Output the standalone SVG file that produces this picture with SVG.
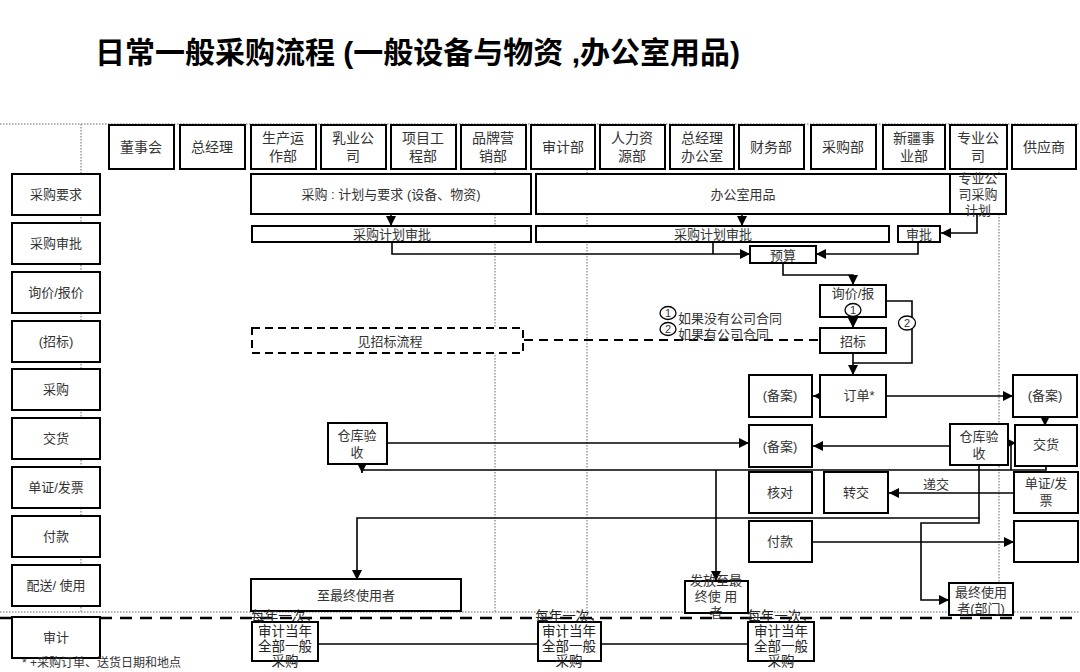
<svg xmlns="http://www.w3.org/2000/svg" width="1080" height="672" viewBox="0 0 1080 672">
<style>
.b{fill:#fff;stroke:#000;stroke-width:2}
.db{fill:#fff;stroke:#000;stroke-width:2;stroke-dasharray:8 5}
.t{font-family:"Liberation Sans","Noto Sans CJK SC",sans-serif;font-size:13px;fill:#333;text-anchor:middle}
.h{font-size:14px}
.k{fill:#222;font-size:13.5px}
.dot{stroke:#666;stroke-width:1;stroke-dasharray:1.5 1.5;fill:none}
.ln{stroke:#000;stroke-width:1.6;fill:none}
.a{marker-end:url(#ar)}
.dash{stroke:#000;stroke-width:2.5;stroke-dasharray:12 8;fill:none}
.ttl{font-family:"Liberation Sans","Noto Sans CJK SC",sans-serif;font-size:30px;font-weight:bold;fill:#000}
</style>
<defs>
<marker id="ar" markerUnits="userSpaceOnUse" markerWidth="10" markerHeight="10" refX="10" refY="5" orient="auto"><path d="M0,0 L10,5 L0,10 z" fill="#000"/></marker>
</defs>
<rect width="1080" height="672" fill="#fff"/>
<text class="ttl" x="95" y="63">日常一般采购流程 (一般设备与物资 ,办公室用品)</text>

<g id="gridlines">
<line class="dot" x1="0" y1="124" x2="1080" y2="124"/>
<line class="dot" x1="0" y1="612" x2="1080" y2="612"/>
<line class="dot" x1="81" y1="124" x2="81" y2="612"/>
<line class="dot" x1="495" y1="124" x2="495" y2="612"/>
<line class="dot" x1="587" y1="124" x2="587" y2="612"/>
<line class="dot" x1="999" y1="124" x2="999" y2="612"/>
<line class="dash" x1="0" y1="618" x2="1080" y2="618"/>
</g>

<g id="header">
<g id="h1"><rect class="b" x="109" y="125" width="65" height="44"/><text class="t h" x="141" y="152">董事会</text></g>
<g id="h2"><rect class="b" x="180" y="125" width="65" height="44"/><text class="t h" x="212" y="152">总经理</text></g>
<g id="h3"><rect class="b" x="251" y="125" width="65" height="44"/><text class="t h" x="283" y="143">生产运</text><text class="t h" x="283" y="161">作部</text></g>
<g id="h4"><rect class="b" x="321" y="125" width="65" height="44"/><text class="t h" x="353" y="143">乳业公</text><text class="t h" x="353" y="161">司</text></g>
<g id="h5"><rect class="b" x="391" y="125" width="65" height="44"/><text class="t h" x="423" y="143">项目工</text><text class="t h" x="423" y="161">程部</text></g>
<g id="h6"><rect class="b" x="461" y="125" width="65" height="44"/><text class="t h" x="493" y="143">品牌营</text><text class="t h" x="493" y="161">销部</text></g>
<g id="h7"><rect class="b" x="531" y="125" width="64" height="44"/><text class="t h" x="563" y="152">审计部</text></g>
<g id="h8"><rect class="b" x="600" y="125" width="65" height="44"/><text class="t h" x="632" y="143">人力资</text><text class="t h" x="632" y="161">源部</text></g>
<g id="h9"><rect class="b" x="670" y="125" width="64" height="44"/><text class="t h" x="702" y="143">总经理</text><text class="t h" x="702" y="161">办公室</text></g>
<g id="h10"><rect class="b" x="739" y="125" width="65" height="44"/><text class="t h" x="771" y="152">财务部</text></g>
<g id="h11"><rect class="b" x="811" y="125" width="65" height="44"/><text class="t h" x="843" y="152">采购部</text></g>
<g id="h12"><rect class="b" x="883" y="125" width="62" height="44"/><text class="t h" x="914" y="143">新疆事</text><text class="t h" x="914" y="161">业部</text></g>
<g id="h13"><rect class="b" x="950" y="125" width="57" height="44"/><text class="t h" x="978" y="143">专业公</text><text class="t h" x="978" y="161">司</text></g>
<g id="h14"><rect class="b" x="1012" y="125" width="64" height="44"/><text class="t h" x="1044" y="152">供应商</text></g>
</g>

<g id="lanes">
<g id="l1"><rect class="b" x="12" y="174" width="88" height="41"/><text class="t" x="56" y="199">采购要求</text></g>
<g id="l2"><rect class="b" x="12" y="223" width="88" height="41"/><text class="t" x="56" y="248">采购审批</text></g>
<g id="l3"><rect class="b" x="12" y="272" width="88" height="41"/><text class="t" x="56" y="297">询价/报价</text></g>
<g id="l4"><rect class="b" x="12" y="321" width="88" height="41"/><text class="t" x="56" y="346">(招标)</text></g>
<g id="l5"><rect class="b" x="12" y="369" width="88" height="41"/><text class="t" x="56" y="394">采购</text></g>
<g id="l6"><rect class="b" x="12" y="418" width="88" height="41"/><text class="t" x="56" y="443">交货</text></g>
<g id="l7"><rect class="b" x="12" y="467" width="88" height="41"/><text class="t" x="56" y="492">单证/发票</text></g>
<g id="l8"><rect class="b" x="12" y="516" width="88" height="41"/><text class="t" x="56" y="541">付款</text></g>
<g id="l9"><rect class="b" x="12" y="565" width="88" height="41"/><text class="t" x="56" y="590">配送/ 使用</text></g>
<g id="l10"><rect class="b" x="12" y="617" width="88" height="41"/><text class="t" x="56" y="642">审计</text></g>
</g>

<g id="connectors">
<path class="ln a" d="M391,215 V226"/>
<path class="ln a" d="M742,215 V226"/>
<path class="ln a" d="M977,215 V233 H941"/>
<path class="ln a" d="M392,243 V254 H750"/>
<path class="ln" d="M713,243 V254"/>
<path class="ln a" d="M918,243 V254 H816"/>
<path class="ln a" d="M783,263 V275 H853 V285"/>
<path class="ln a" d="M853,318 V328"/>
<path class="ln" d="M886,301 H912 V363 H853"/>
<path class="ln a" d="M853,354 V375"/>
<path class="dash" d="M524,340 H820" style="stroke-width:2;stroke-dasharray:9 6"/>
<path class="ln a" d="M840,396 H813"/>
<path class="ln a" d="M886,396 H1013"/>
<path class="ln a" d="M1045,418 V426"/>
<path class="ln a" d="M950,446 H813"/>
<path class="ln a" d="M388,443 H749"/>
<path class="ln" d="M1046,467 V470 H362"/>
<path class="ln a" d="M362,463 V473"/>
<path class="ln a" d="M1011,470 V443 H1016"/>
<path class="ln a" d="M716,470 V581"/>
<path class="ln a" d="M979,465 V518 H357 V580"/>
<path class="ln a" d="M979,518 V523 H921 V600 H949"/>
<path class="ln a" d="M1014,493 H889"/>
<path class="ln a" d="M812,542 H1014"/>
<path class="ln" d="M318,644 H538"/>
<path class="ln" d="M601,644 H748"/>
<text class="t" x="936" y="489">递交</text>
</g>

<g id="n-req1"><rect class="b" x="251" y="174" width="280" height="40"/><text class="t" x="391" y="199">采购 : 计划与要求 (设备、物资)</text></g>
<g id="n-req2"><rect class="b" x="536" y="174" width="414" height="40"/><text class="t" x="743" y="199">办公室用品</text></g>
<g id="n-req3"><rect class="b" x="950" y="174" width="56" height="40"/><text class="t" x="978" y="183">专业公</text><text class="t" x="978" y="199">司采购</text><text class="t" x="978" y="215">计划</text></g>

<g id="n-ap1"><rect class="b" x="252" y="226" width="279" height="16"/><text class="t" x="392" y="239">采购计划审批</text></g>
<g id="n-ap2"><rect class="b" x="536" y="226" width="353" height="16"/><text class="t" x="713" y="239">采购计划审批</text></g>
<g id="n-ap3"><rect class="b" x="898" y="226" width="42" height="16"/><text class="t" x="919" y="239">审批</text></g>
<g id="n-budget"><rect class="b" x="750" y="246" width="66" height="17"/><text class="t" x="783" y="260">预算</text></g>

<g id="n-inq"><rect class="b" x="820" y="285" width="66" height="32"/><text class="t" x="853" y="298">询价/报</text><ellipse cx="853" cy="310" rx="8" ry="6.5" fill="none" stroke="#000" stroke-width="1.3"/><text class="t" x="853" y="314" style="font-size:11px">1</text></g>
<g id="n-c2"><ellipse cx="907" cy="323" rx="8.5" ry="7" fill="#fff" stroke="#000" stroke-width="1.3"/><text class="t" x="907" y="327" style="font-size:11px">2</text></g>
<g id="n-tender"><rect class="b" x="820" y="328" width="66" height="25"/><text class="t" x="853" y="346">招标</text></g>
<g id="n-note"><ellipse cx="668" cy="313" rx="8" ry="6.5" fill="none" stroke="#000" stroke-width="1.3"/><text class="t" x="668" y="317" style="font-size:11px">1</text><text class="t" x="678" y="323" style="text-anchor:start">如果没有公司合同</text><ellipse cx="668" cy="329" rx="8" ry="6.5" fill="none" stroke="#000" stroke-width="1.3"/><text class="t" x="668" y="333" style="font-size:11px">2</text><text class="t" x="678" y="339" style="text-anchor:start">如果有公司合同</text></g>
<g id="n-seetender"><rect class="db" x="252" y="328" width="271" height="25"/><text class="t" x="390" y="346">见招标流程</text></g>

<g id="n-rec1"><rect class="b" x="749" y="375" width="63" height="42"/><text class="t" x="780" y="400">(备案)</text></g>
<g id="n-order"><rect class="b" x="820" y="375" width="66" height="42"/><text class="t" x="859" y="400">订单*</text></g>
<g id="n-rec2"><rect class="b" x="1013" y="375" width="64" height="42"/><text class="t" x="1045" y="400">(备案)</text></g>

<g id="n-wh1"><rect class="b" x="328" y="423" width="59" height="41"/><text class="t" x="357" y="440">仓库验</text><text class="t" x="357" y="457">收</text></g>
<g id="n-rec3"><rect class="b" x="749" y="425" width="63" height="42"/><text class="t" x="780" y="451">(备案)</text></g>
<g id="n-wh2"><rect class="b" x="950" y="424" width="58" height="41"/><text class="t" x="979" y="441">仓库验</text><text class="t" x="979" y="458">收</text></g>
<g id="n-deliver"><rect class="b" x="1015" y="425" width="62" height="41"/><text class="t" x="1046" y="449">交货</text></g>

<g id="n-check"><rect class="b" x="749" y="472" width="63" height="41"/><text class="t" x="780" y="497">核对</text></g>
<g id="n-transfer"><rect class="b" x="824" y="472" width="64" height="41"/><text class="t" x="856" y="497">转交</text></g>
<g id="n-invoice"><rect class="b" x="1014" y="472" width="64" height="41"/><text class="t" x="1046" y="488">单证/发</text><text class="t" x="1046" y="505">票</text></g>

<g id="n-pay"><rect class="b" x="749" y="521" width="63" height="41"/><text class="t" x="780" y="546">付款</text></g>
<g id="n-payee"><rect class="b" x="1014" y="521" width="64" height="41"/></g>

<g id="n-user1"><rect class="b" x="251" y="579" width="210" height="32"/><text class="t" x="356" y="600">至最终使用者</text></g>
<g id="n-user2"><rect class="b" x="685" y="581" width="63" height="32"/><text class="t" x="716" y="585">发放至最</text><text class="t" x="716" y="601">终使 用</text><text class="t" x="716" y="617">者</text></g>
<g id="n-user3"><rect class="b" x="949" y="583" width="64" height="32"/><text class="t" x="981" y="597">最终使用</text><text class="t" x="981" y="613">者(部门)</text></g>

<g id="n-audit1"><rect class="b" x="252" y="622" width="66" height="39"/><text class="t k" x="285" y="621">每年一次，</text><text class="t k" x="285" y="636">审计当年</text><text class="t k" x="285" y="651">全部一般</text><text class="t k" x="285" y="666">采购</text></g>
<g id="n-audit2"><rect class="b" x="538" y="622" width="63" height="39"/><text class="t k" x="569" y="621">每年一次，</text><text class="t k" x="569" y="636">审计当年</text><text class="t k" x="569" y="651">全部一般</text><text class="t k" x="569" y="666">采购</text></g>
<g id="n-audit3"><rect class="b" x="748" y="622" width="66" height="39"/><text class="t k" x="781" y="621">每年一次，</text><text class="t k" x="781" y="636">审计当年</text><text class="t k" x="781" y="651">全部一般</text><text class="t k" x="781" y="666">采购</text></g>

<text class="t" x="22" y="667" style="text-anchor:start;font-size:12px">* +采购订单、送货日期和地点</text>
</svg>
